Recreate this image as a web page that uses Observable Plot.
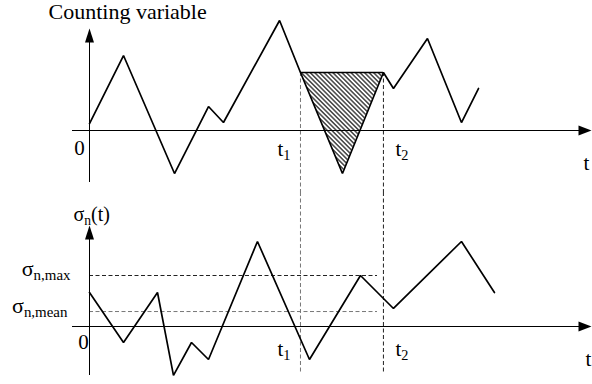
<!DOCTYPE html>
<html>
<head>
<meta charset="utf-8">
<script src="https://cdn.jsdelivr.net/npm/d3@7"></script>
<script src="https://cdn.jsdelivr.net/npm/@observablehq/plot@0.6"></script>
<style>
  html, body { margin: 0; padding: 0; background: #fff; }
  #chart svg { display: block; }
</style>
</head>
<body>
<div id="chart"></div>
<script>
// ---------- data ----------
const countT = [0, 2, 5, 7, 7.88, 11.18, 12.41, 14.88, 17.29, 17.88, 19.88, 21.88, 22.88];
const countV = [0.41, 4.41, -2.53, 1.41, 0.47, 6.47, 3.41, -2.53, 3.41, 2.47, 5.41, 0.47, 2.47];
const sigmaT = [0, 2, 4, 4.94, 6, 7, 9.88, 12.94, 15.94, 17.88, 21.88, 23.82];
const sigmaV = [2, -0.94, 2, -2.88, -0.94, -1.94, 5, -1.94, 3, 1.06, 5, 2];
const t1 = 12.41, t2 = 17.29;          // interval boundaries
const crossLevel = 3.41;                // counting-variable level at t1 and t2
const sigmaMax = 3.0, sigmaMean = 0.88;  // sigma levels
const topTitle = "Counting variable";
const sigmaAxisLabel = "σ_{n}(t)";
const sigmaMaxLabel = "σ_{n,max}";
const sigmaMeanLabel = "σ_{n,mean}";
const originLabel = "0";
const timeLabels = ["t_{1}", "t_{2}"];
const axisLabel = "t";

// ---------- layout ----------
const W = 592, H = 192, U = 17;          // px per data unit
const ox = 89;                           // y-axis pixel position
const topOy = 130, botOy = 134;          // x-axis pixel position in each panel
const xDomain = [-ox / U, (W - ox) / U];
const xStart = (72 - ox) / U, xTip = (591 - ox) / U;
const FONT = "Liberation Serif";

const countData = countT.map((t, i) => ({t, v: countV[i]}));
const sigmaData = sigmaT.map((t, i) => ({t, v: sigmaV[i]}));
const hatchData = countData.filter(d => d.t >= t1 && d.t <= t2);

const arrowUp = {draw(ctx) { ctx.moveTo(0, 0); ctx.lineTo(4.5, 14); ctx.lineTo(-4.5, 14); ctx.closePath(); }};
const arrowRight = {draw(ctx) { ctx.moveTo(0, 0); ctx.lineTo(-13, -5); ctx.lineTo(-13, 5); ctx.closePath(); }};

const txt = (label, opts) => Plot.text([label], {text: d => d, fontFamily: FONT, fill: "black", ...opts});

function base(yDomain, marks) {
  return Plot.plot({
    width: W, height: H, margin: 0,
    x: {domain: xDomain, axis: null},
    y: {domain: yDomain, axis: null},
    style: {fontFamily: FONT, background: "white", overflow: "visible"},
    marks
  });
}

// ---------- top panel ----------
const topDomain = [(topOy - H) / U, topOy / U];
const topSvg = base(topDomain, [
  Plot.area(hatchData, {x1: "t", y1: "v", y2: crossLevel, fill: "url(#hatch)"}),
  Plot.ruleX([t1], {y1: crossLevel, y2: topDomain[0], stroke: "#777", strokeWidth: 1, strokeDasharray: "4,2.5"}),
  Plot.ruleX([t2], {y1: crossLevel, y2: topDomain[0], stroke: "#222", strokeWidth: 1, strokeDasharray: "4,2.5"}),
  Plot.ruleY([0], {x1: xStart, x2: xTip - 0.3, stroke: "black", strokeWidth: 1}),
  Plot.ruleX([0], {y1: (topOy - 182) / U, y2: (topOy - 30) / U, stroke: "black", strokeWidth: 1}),
  Plot.dot([0], {x: xTip, y: 0, symbol: arrowRight, fill: "black", stroke: null}),
  Plot.dot([0], {x: 0, y: (topOy - 28) / U, symbol: arrowUp, fill: "black", stroke: null}),
  Plot.ruleY([crossLevel], {x1: t1, x2: t2, stroke: "black", strokeWidth: 1.6}),
  Plot.line(countData, {x: "t", y: "v", stroke: "black", strokeWidth: 1.7, strokeLinejoin: "miter"}),
  txt(topTitle, {x: 0, y: (topOy - 28) / U, textAnchor: "start", dx: -41, dy: -16.9, fontSize: 22}),
  txt(originLabel, {x: 0, y: 0, dx: -10, dy: 17.6, fontSize: 21}),
  txt(timeLabels[0], {x: t1, y: 0, textAnchor: "start", dx: -23, dy: 18.6, fontSize: 21}),
  txt(timeLabels[1], {x: t2, y: 0, textAnchor: "start", dx: 12, dy: 18.6, fontSize: 21}),
  txt(axisLabel, {x: xTip, y: 0, textAnchor: "start", dx: -8, dy: 32.6, fontSize: 21})
]);

// ---------- bottom panel ----------
const botDomain = [(botOy - H) / U, botOy / U];
const dashEnd = (377 - ox) / U;
const botSvg = base(botDomain, [
  Plot.ruleX([t1], {y1: botDomain[1], y2: (botOy - 180) / U, stroke: "#777", strokeWidth: 1, strokeDasharray: "4,2.5"}),
  Plot.ruleX([t2], {y1: botDomain[1], y2: (botOy - 180) / U, stroke: "#222", strokeWidth: 1, strokeDasharray: "4,2.5"}),
  Plot.ruleY([sigmaMax], {x1: 0, x2: dashEnd, stroke: "#222", strokeWidth: 1, strokeDasharray: "4,2.5"}),
  Plot.ruleY([sigmaMean], {x1: 0, x2: dashEnd, stroke: "#777", strokeWidth: 1, strokeDasharray: "4,2.5"}),
  Plot.ruleY([0], {x1: xStart, x2: xTip - 0.3, stroke: "black", strokeWidth: 1}),
  Plot.ruleX([0], {y1: (botOy - 183) / U, y2: (botOy - 35) / U, stroke: "black", strokeWidth: 1}),
  Plot.dot([0], {x: xTip, y: 0, symbol: arrowRight, fill: "black", stroke: null}),
  Plot.dot([0], {x: 0, y: (botOy - 33) / U, symbol: arrowUp, fill: "black", stroke: null}),
  Plot.line(sigmaData, {x: "t", y: "v", stroke: "black", strokeWidth: 1.7, strokeLinejoin: "miter"}),
  txt(sigmaAxisLabel, {x: 0, y: (botOy - 33) / U, textAnchor: "start", dx: -16, dy: -11.4, fontSize: 20}),
  txt(sigmaMaxLabel, {x: 0, y: sigmaMax, textAnchor: "end", dx: -19, dy: -6.6, fontSize: 22}),
  txt(sigmaMeanLabel, {x: 0, y: sigmaMean, textAnchor: "end", dx: -22, dy: -5.6, fontSize: 22}),
  txt(originLabel, {x: 0, y: 0, dx: -6, dy: 15.6, fontSize: 21}),
  txt(timeLabels[0], {x: t1, y: 0, textAnchor: "start", dx: -23, dy: 22.6, fontSize: 21}),
  txt(timeLabels[1], {x: t2, y: 0, textAnchor: "start", dx: 12, dy: 22.6, fontSize: 21}),
  txt(axisLabel, {x: xTip, y: 0, textAnchor: "start", dx: -6, dy: 32.6, fontSize: 21})
]);

// ---------- hatch pattern ----------
const defs = d3.select(topSvg).insert("defs", ":first-child");
const pat = defs.append("pattern").attr("id", "hatch")
  .attr("patternUnits", "userSpaceOnUse").attr("width", 3.2).attr("height", 3.2)
  .attr("patternTransform", "rotate(-45)");
pat.append("rect").attr("width", 3.2).attr("height", 3.2).attr("fill", "white");
pat.append("line").attr("x1", 1.6).attr("y1", -1).attr("x2", 1.6).attr("y2", 4.2)
  .attr("stroke", "black").attr("stroke-width", 1.1);

// ---------- subscripts ----------
function subscripts(svg) {
  svg.querySelectorAll("text").forEach(el => {
    const s = el.textContent;
    if (!s.includes("_{")) return;
    const parts = s.split(/_\{([^}]*)\}/);
    el.textContent = "";
    let shifted = false;
    parts.forEach((p, i) => {
      if (!p) return;
      const ts = document.createElementNS("http://www.w3.org/2000/svg", "tspan");
      ts.textContent = p;
      if (i % 2) {
        ts.setAttribute("font-size", "68%");
        ts.setAttribute("dy", "0.3em");
        shifted = true;
      } else if (shifted) {
        ts.setAttribute("dy", "-0.2em");
        shifted = false;
      }
      el.appendChild(ts);
    });
  });
}
subscripts(topSvg);
subscripts(botSvg);

document.getElementById("chart").append(topSvg, botSvg);
</script>
</body>
</html>
